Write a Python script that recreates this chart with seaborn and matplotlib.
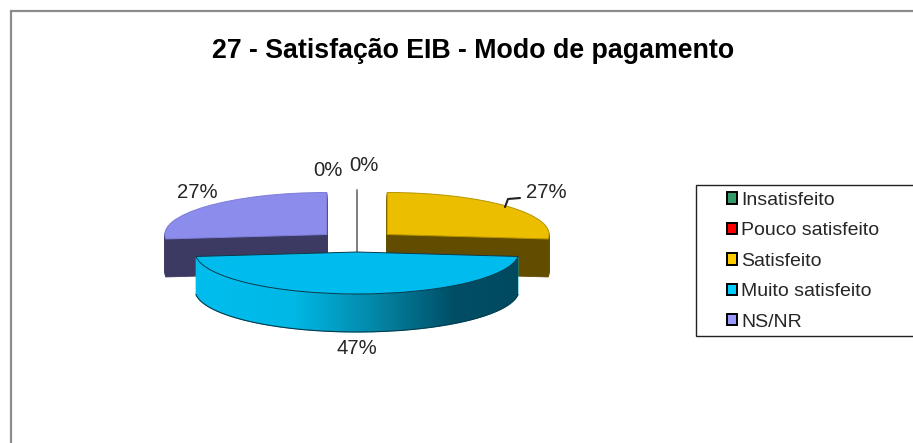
import numpy as np
import matplotlib
matplotlib.use("Agg")
import matplotlib.pyplot as plt
from matplotlib.patches import Patch, Rectangle, Polygon
from matplotlib.colors import LinearSegmentedColormap
import seaborn as sns

categories = ["Insatisfeito", "Pouco satisfeito", "Satisfeito", "Muito satisfeito", "NS/NR"]
values = [0, 0, 26.7, 46.6, 26.7]
legend_colors = ["#339966", "#FF0000", "#FFCC00", "#00CCFF", "#9999FF"]
top_colors = ["#808080", "#808080", "#EBBE00", "#00BCEE", "#8C8CEC"]
side_colors = ["#808080", "#808080", "#624C00", "#00BCEE", "#3C3A62"]
edge_top = ["#808080", "#808080", "#B89600", "#0A3A4A", "#7F7FDA"]
title = "27 - Satisfação EIB - Modo de pagamento"

sns.set_theme(style="white")
plt.rcParams["font.family"] = ["Liberation Sans", "DejaVu Sans"]

W, H = 913, 443
fig = plt.figure(figsize=(W / 100, H / 100), dpi=100)
ax = fig.add_axes([0, 0, 1, 1])

R = 162.0
k = R / 42.0          # vertical squash of the pie disc
DEPTH = 38
cx, cy_px = 357, 241.5
explode = [0.25 * R] * 5
def Y(p):
    return (H - p) * k

def draw(shift, colors, edges, lw, zmap):
    wedges, _ = ax.pie(values, explode=explode, startangle=90, counterclock=False,
                       radius=R, center=(cx, Y(cy_px + shift)), colors=colors,
                       wedgeprops=dict(linewidth=lw))
    for w, e, z in zip(wedges, edges, zmap):
        w.set_edgecolor(e)
        w.set_zorder(z)
    return wedges

for s in range(DEPTH, 0, -1):
    draw(s, side_colors, side_colors, 0.6, [1, 1, 2, 5, 2])
top = draw(0, top_colors, edge_top, 0.7, [1, 1, 3, 8, 3])

# gradient rim of the front slice
m = top[3]
th = np.deg2rad(np.linspace(m.theta1, m.theta2, 200))
ax_x = m.center[0] + m.r * np.cos(th)
ax_y = m.center[1] + m.r * np.sin(th)
low = ax_y - DEPTH * k
rim = Polygon(np.r_[np.c_[ax_x, ax_y], np.c_[ax_x, low][::-1]], closed=True,
              transform=ax.transData, facecolor="none", edgecolor="none")
ax.add_patch(rim)
cmap = LinearSegmentedColormap.from_list(
    "rim", [(0, "#00BDEE"), (0.30, "#00B8E6"), (0.55, "#0488A8"), (0.80, "#004E66"), (1, "#004A60")])
img = ax.imshow(np.linspace(0, 1, 256)[None, :], cmap=cmap, aspect="auto",
                extent=(ax_x.min(), ax_x.max(), low.min(), ax_y.max()), zorder=6)
img.set_clip_path(rim)
ax.plot(ax_x, low, color="#0A3A4A", lw=0.8, zorder=7)

ax.set_aspect("auto")
ax.set_xlim(0, W)
ax.set_ylim(0, H * k)
ax.set_axis_off()

# data labels
pct = [f"{v:.0f}%" for v in values]
label_pos = [(328, 170), (364, 165), (546, 193), (357, 348), (197, 193)]
for t, (x, y) in zip(pct, label_pos):
    ax.text(x, Y(y), t, ha="center", va="center", fontsize=14.6, color="#262626", zorder=10)
ax.plot([505, 508, 520], [Y(207), Y(199), Y(198)], color="#222222", lw=1.5, zorder=9)

# title
ax.text(473, Y(51.5), title, ha="center", va="center", fontsize=19.25, fontweight="bold",
        color="black", zorder=10)

# chart frame and legend frame, running off the canvas as in the source
fig.add_artist(Rectangle((10.5 / W, -0.1), 1.2, 1.1 - 11 / H, transform=fig.transFigure,
                         facecolor="none", edgecolor="#8C8C8C", lw=1.6, zorder=-1))
fig.add_artist(Rectangle((696 / W, 1 - 336 / H), 0.5, 151 / H, transform=fig.transFigure,
                         facecolor="white", edgecolor="#222222", lw=1.0, zorder=-1))

handles = [Patch(facecolor=c, edgecolor="black", linewidth=1.4) for c in legend_colors]
leg = ax.legend(handles, categories, loc="upper left", frameon=False,
                bbox_to_anchor=(727 / W, 1 - 192 / H), bbox_transform=fig.transFigure,
                borderpad=0, borderaxespad=0, fontsize=14, labelspacing=0.69,
                handlelength=0.52, handleheight=0.52, handletextpad=0.22,
                labelcolor="#262626")
leg.set_zorder(12)

fig.savefig("out.png", dpi=100)
